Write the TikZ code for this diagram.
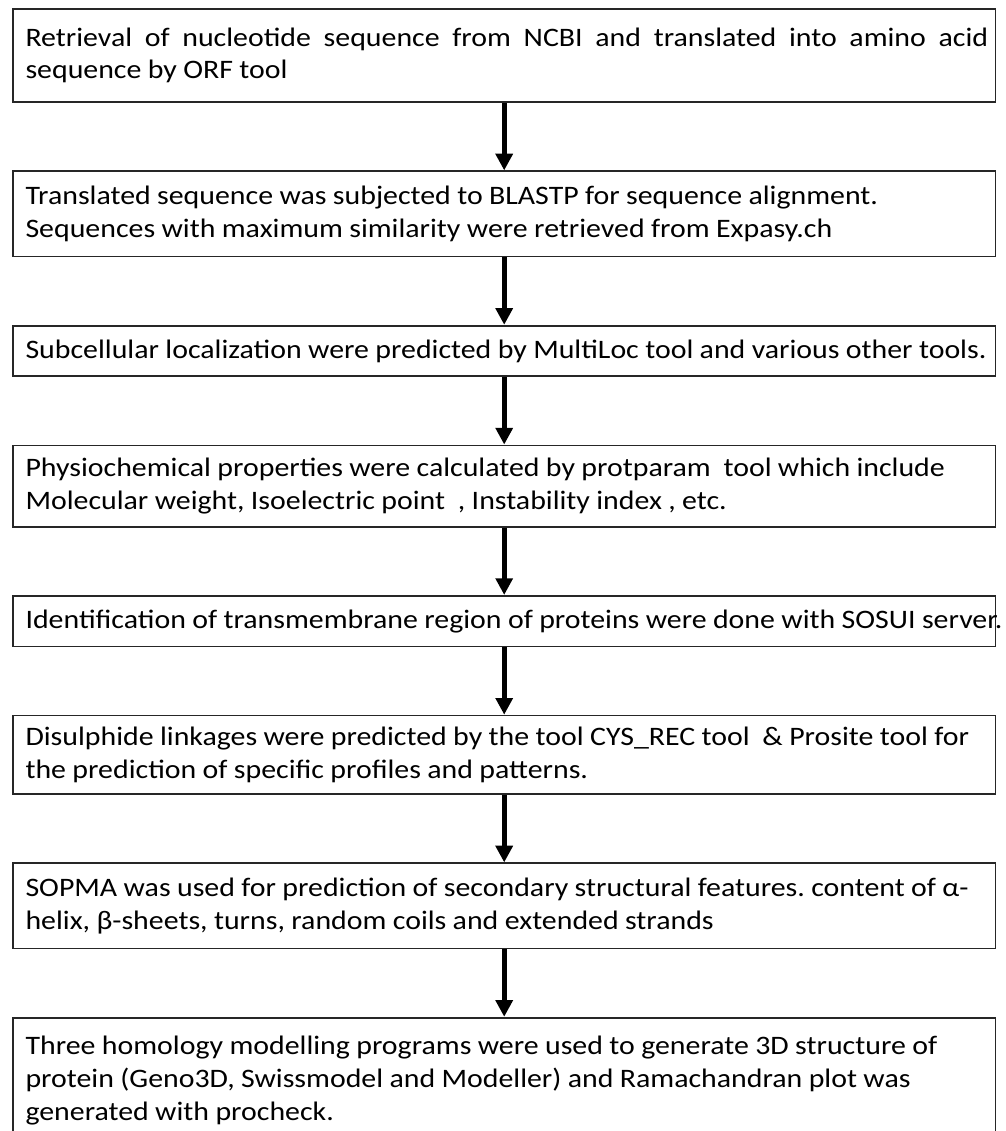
\documentclass[tikz,border=0pt]{standalone}
\usepackage{fontspec}
\setmainfont{Carlito}[FakeStretch=1.12]
\usetikzlibrary{arrows.meta, positioning}

\begin{document}
\begin{tikzpicture}[
    stepbox/.style={rectangle, draw=black!85, line width=1.3pt, fill=white,
      minimum width=737pt, text width=718pt, inner xsep=9.5pt,
      font=\fontsize{20}{24.5}\selectfont, align=left,
      execute at begin node={\spaceskip=0.24em\relax\xspaceskip=0.24em\relax}},
    flow/.style={-{Triangle[width=12.5pt,length=12.5pt]}, line width=3.5pt},
    node distance=50.5pt
  ]
  \useasboundingbox (0,0) rectangle (754.5pt,-848.25pt);

  \node[stepbox, anchor=north west, minimum height=70pt]
    (retrieve) at (9pt,-6pt)
    {\makebox[722pt][s]{\spaceskip=0.24em plus 1em\relax
       Retrieval of nucleotide sequence from NCBI and translated into amino acid}\\
     sequence by ORF tool};
  \node[stepbox, below=of retrieve, minimum height=64pt] (blast)
    {Translated sequence was subjected to BLASTP for sequence alignment.\\
     Sequences with maximum similarity were retrieved from Expasy.ch};
  \node[stepbox, below=of blast, minimum height=38pt] (subcell)
    {\mbox{Subcellular localization were predicted by MultiLoc tool and various other tools.}};
  \node[stepbox, below=of subcell, minimum height=61pt] (physchem)
    {Physiochemical properties were calculated by protparam~ tool which include\\
     Molecular weight, Isoelectric point~ , Instability index , etc.};
  \node[stepbox, below=of physchem, minimum height=38pt] (transmem)
    {\mbox{Identification of transmembrane region of proteins were done with SOSUI server.}};
  \node[stepbox, below=of transmem, minimum height=59pt] (disulph)
    {\mbox{Disulphide linkages were predicted by the tool CYS\_REC tool~ \& Prosite tool for}\\
     the prediction of specific profiles and patterns.};
  \node[stepbox, below=of disulph, minimum height=64pt] (sopma)
    {\mbox{SOPMA was used for prediction of secondary structural features. content of α-}\\
     helix, β-sheets, turns, random coils and extended strands};
  \node[stepbox, below=of sopma, minimum height=94.5pt] (homology)
    {Three homology modelling programs were used to generate 3D structure of\\
     protein (Geno3D, Swissmodel and Modeller) and Ramachandran plot was\\
     generated with procheck.};

  % arrows between the steps
  \foreach \from/\to in {retrieve/blast, blast/subcell, subcell/physchem,
      physchem/transmem, transmem/disulph, disulph/sopma, sopma/homology}
    \draw[flow] (\from.south) -- (\to.north);
\end{tikzpicture}
\end{document}
